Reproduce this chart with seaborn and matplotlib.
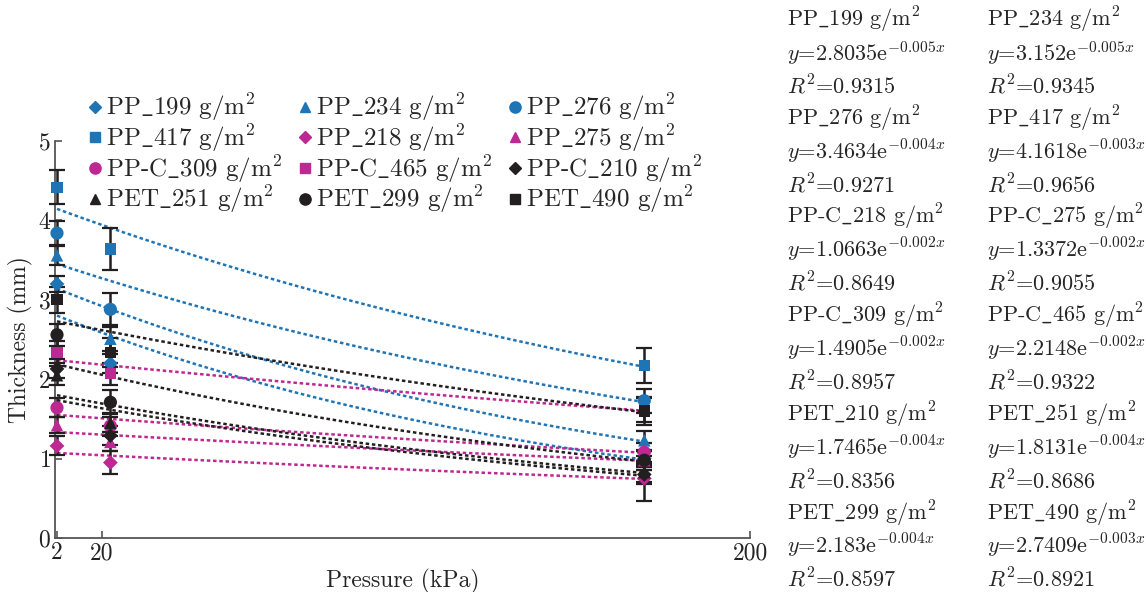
import numpy as np
import pandas as pd
import seaborn as sns
import matplotlib.pyplot as plt
from matplotlib.lines import Line2D

sns.set_style('ticks')
plt.rcParams.update({
    'font.family': ['cmr10', 'DejaVu Serif'],
    'mathtext.fontset': 'cm',
    'axes.formatter.use_mathtext': True,
    'font.size': 17,
})

# ---- data ----
pressure = [2, 20, 200]  # kPa
names = ['PP_199', 'PP_234', 'PP_276', 'PP_417', 'PP_218', 'PP_275',
         'PP-C_309', 'PP-C_465', 'PP-C_210', 'PET_251', 'PET_299', 'PET_490']
thick_PP_199 = [3.20, 2.20, 1.00]
thick_PP_234 = [3.56, 2.51, 1.23]
thick_PP_276 = [3.84, 2.88, 1.73]
thick_PP_417 = [4.42, 3.64, 2.17]
thick_PP_218 = [1.16, 0.95, 0.75]
thick_PP_275 = [1.42, 1.21, 0.98]
thick_PPC_309 = [1.64, 1.41, 1.08]
thick_PPC_465 = [2.34, 2.07, 1.61]
thick_PPC_210 = [2.13, 1.29, 0.80]
thick_PET_251 = [2.05, 1.45, 0.83]
thick_PET_299 = [2.56, 1.71, 0.98]
thick_PET_490 = [3.00, 2.34, 1.60]
err_PP_199 = [0.10, 0.12, 0.10]
err_PP_234 = [0.12, 0.15, 0.12]
err_PP_276 = [0.15, 0.20, 0.15]
err_PP_417 = [0.21, 0.27, 0.22]
err_PP_218 = [0.12, 0.15, 0.28]
err_PP_275 = [0.10, 0.12, 0.12]
err_PPC_309 = [0.12, 0.12, 0.12]
err_PPC_465 = [0.14, 0.14, 0.15]
err_PPC_210 = [0.12, 0.12, 0.12]
err_PET_251 = [0.12, 0.12, 0.12]
err_PET_299 = [0.14, 0.15, 0.12]
err_PET_490 = [0.16, 0.18, 0.18]

thick = [thick_PP_199, thick_PP_234, thick_PP_276, thick_PP_417,
         thick_PP_218, thick_PP_275, thick_PPC_309, thick_PPC_465,
         thick_PPC_210, thick_PET_251, thick_PET_299, thick_PET_490]
errs = [err_PP_199, err_PP_234, err_PP_276, err_PP_417,
        err_PP_218, err_PP_275, err_PPC_309, err_PPC_465,
        err_PPC_210, err_PET_251, err_PET_299, err_PET_490]

# fit equations shown on the right
fit_names = ['PP_199', 'PP_234', 'PP_276', 'PP_417', 'PP-C_218', 'PP-C_275',
             'PP-C_309', 'PP-C_465', 'PET_210', 'PET_251', 'PET_299', 'PET_490']
fit_a = ['2.8035', '3.152', '3.4634', '4.1618', '1.0663', '1.3372',
         '1.4905', '2.2148', '1.7465', '1.8131', '2.183', '2.7409']
fit_b = ['0.005', '0.005', '0.004', '0.003', '0.002', '0.002',
         '0.002', '0.002', '0.004', '0.004', '0.004', '0.003']
fit_r2 = ['0.9315', '0.9345', '0.9271', '0.9656', '0.8649', '0.9055',
          '0.8957', '0.9322', '0.8356', '0.8686', '0.8597', '0.8921']

blue = '#1f74b6'
magenta = '#bd2892'
black = '#231f20'
colors = [blue] * 4 + [magenta] * 4 + [black] * 4
markers = ['D', '^', 'o', 's'] * 3
msizes = {'D': 7.5, '^': 9, 'o': 9.5, 's': 8}

fig = plt.figure(figsize=(11.46, 5.92), dpi=100)
ax = fig.add_axes([0.048, 0.0912, 0.6066, 0.6706])

xs = np.linspace(2, 200, 100)
handles = []
for i, name in enumerate(names):
    y = np.array(thick[i])
    # exponential trend line fitted to the points
    b, ln_a = np.polyfit(pressure, np.log(y), 1)
    trend = pd.DataFrame({'x': xs, 'y': np.exp(ln_a + b * xs)})
    sns.lineplot(data=trend, x='x', y='y', ax=ax, color=colors[i],
                 linestyle=(0, (1.4, 1.1)), linewidth=1.8, zorder=2)
    eb = ax.errorbar(pressure, y, yerr=errs[i], fmt='none', ecolor=black,
                     elinewidth=1.8, capsize=6, capthick=1.6, zorder=3)
    for art in eb.lines[1] + eb.lines[2]:
        art.set_clip_on(False)
    df = pd.DataFrame({'x': pressure, 'y': y})
    sns.scatterplot(data=df, x='x', y='y', ax=ax, color=colors[i],
                    marker=markers[i], s=msizes[markers[i]] ** 2,
                    edgecolor='none', linewidth=0, zorder=4, clip_on=False)
    handles.append(Line2D([], [], linestyle='none', marker=markers[i],
                          color=colors[i], markersize=msizes[markers[i]] * 0.85,
                          label=name.replace('_', r'$\_$') + r' g/m$^2$'))

ax.set_xlim(1.33, 235.7)
ax.set_ylim(0, 5)
ax.set_xticks([2, 17.2, 235.7])
ax.set_xticklabels(['2', '20', '200'])
ax.set_yticks([0, 1, 2, 3, 4, 5])
ax.tick_params(direction='in', length=5, width=1.2, colors='#555555',
               labelcolor='#222222', labelsize=17, pad=3)
ax.set_xlabel('Pressure (kPa)', fontsize=17, labelpad=3)
ax.set_ylabel('Thickness (mm)', fontsize=17)
ax.yaxis.set_label_coords(-0.031, 0.5)
sns.despine(ax=ax)
for s in ['left', 'bottom']:
    ax.spines[s].set_color('#555555')
    ax.spines[s].set_linewidth(1.3)

# legend filled row by row (3 per row)
order = [r * 3 + c for c in range(3) for r in range(4)]
fig.legend([handles[k] for k in order], [handles[k].get_label() for k in order],
           ncol=3, loc='upper left', bbox_to_anchor=(0.0655, 0.866),
           frameon=False, handlelength=0.6, handletextpad=0.15,
           columnspacing=0.6, labelspacing=-0.04, borderpad=0,
           fontsize=18)

# fit equations on the right
for k in range(12):
    col = k % 2
    blk = k // 2
    xt = 0.687 + col * 0.1745
    for j, txt in enumerate([
            fit_names[k].replace('_', r'$\_$') + r' g/m$^2$',
            r'$y$=' + fit_a[k] + r'e$^{-' + fit_b[k] + r'x}$',
            r'$R^2$=' + fit_r2[k]]):
        line = blk * 3 + j
        yp = 20 + 32.9 * line
        fig.text(xt, 1 - yp / 592, txt, ha='left', va='center', fontsize=16)

fig.savefig('out.png', dpi=100)
